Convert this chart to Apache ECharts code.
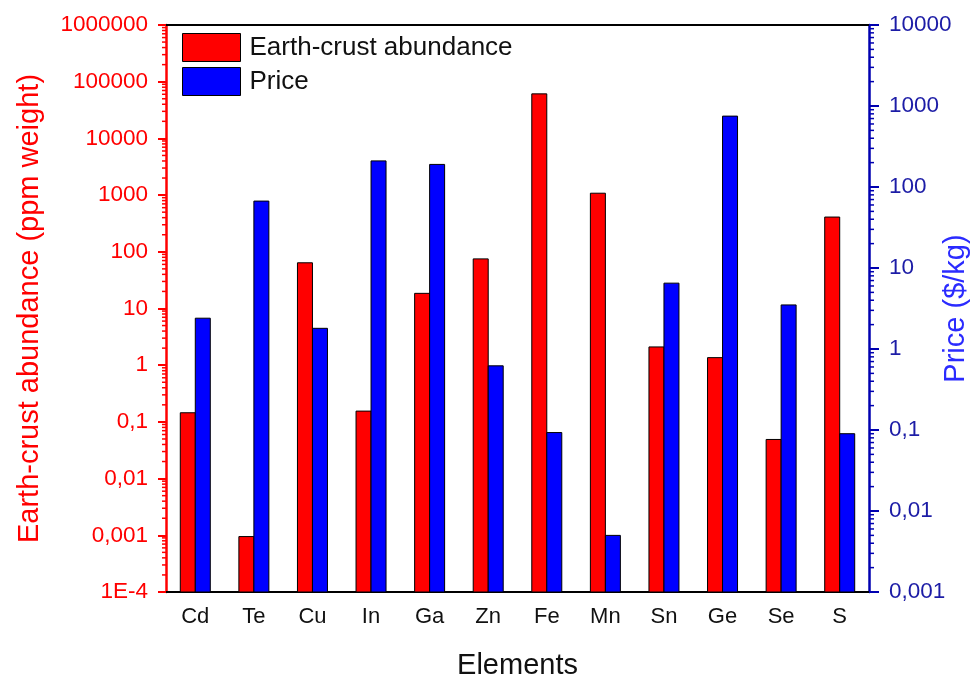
<!DOCTYPE html>
<html>
<head>
<meta charset="utf-8">
<title>Earth-crust abundance and price of elements</title>
<script src="https://cdn.jsdelivr.net/npm/echarts@6/dist/echarts.min.js"></script>
<style>
  html, body { margin: 0; padding: 0; background: #ffffff; }
  #chart { width: 972px; height: 681px; }
</style>
</head>
<body>
<div id="chart"></div>
<script>
// Elements on the category axis
const categories = ['Cd', 'Te', 'Cu', 'In', 'Ga', 'Zn', 'Fe', 'Mn', 'Sn', 'Ge', 'Se', 'S'];
// Earth-crust abundance, ppm by weight (left log axis)
const abundance = [0.145, 0.00095, 64, 0.155, 18.5, 75, 61000, 1080, 2.1, 1.36, 0.049, 410];
// Price, $/kg (right log axis)
const price = [2.4, 67, 1.8, 210, 190, 0.62, 0.093, 0.005, 6.5, 750, 3.5, 0.09];

// Axis ranges and tick texts (decimal comma)
const leftMin = 1e-4, leftMax = 1e6;
const rightMin = 1e-3, rightMax = 1e4;
const leftTickLabels = ['1E-4', '0,001', '0,01', '0,1', '1', '10', '100', '1000', '10000', '100000', '1000000'];
const rightTickLabels = ['0,001', '0,01', '0,1', '1', '10', '100', '1000', '10000'];

const FONT = '"Liberation Sans", Arial, Helvetica, sans-serif';
const RED = '#ff0000';
const BLUE = '#0000ff';
const BLUE_AXIS = '#0000b0';
const BLUE_LABEL = '#1c1ca6';
const BLUE_NAME = '#2b2bff';

// Minor tick values 2..9 x 10^e inside a log range
function minorTickValues(minExp, maxExp) {
  const out = [];
  for (let e = minExp; e < maxExp; e++) {
    for (let k = 2; k <= 9; k++) out.push([0, k * Math.pow(10, e)]);
  }
  return out;
}

// Bars drawn from the axis minimum up to the value, side by side in each band
function barRenderer(side, fill, baseValue) {
  return function (params, api) {
    const cs = params.coordSys;
    const band = cs.width / categories.length;
    const w = band * 0.256;
    const idx = api.value(0);
    const top = api.coord([idx, api.value(1)]);
    const base = api.coord([idx, baseValue]);
    const x = side < 0 ? top[0] - w : top[0];
    return {
      type: 'rect',
      shape: { x: x, y: top[1], width: w, height: base[1] - top[1] },
      style: { fill: fill, stroke: '#000000', lineWidth: 1 }
    };
  };
}

// Short minor tick marks on the outer side of a value axis
function minorTickRenderer(onRight, len, color) {
  return function (params, api) {
    const cs = params.coordSys;
    const y = api.coord([0, api.value(1)])[1];
    const x0 = onRight ? cs.x + cs.width : cs.x;
    const x1 = onRight ? x0 + len : x0 - len;
    return {
      type: 'line',
      shape: { x1: x0, y1: y, x2: x1, y2: y },
      style: { stroke: color, lineWidth: 1.5 }
    };
  };
}

const chart = echarts.init(document.getElementById('chart'), null, { renderer: 'canvas' });

chart.setOption({
  animation: false,
  backgroundColor: '#ffffff',
  textStyle: { fontFamily: FONT },
  grid: { left: 166, right: 103, top: 25, bottom: 89, containLabel: false, outerBoundsMode: 'none' },
  legend: {
    orient: 'vertical',
    left: 182,
    top: 33,
    padding: 0,
    itemWidth: 58,
    itemHeight: 28,
    itemGap: 5,
    selectedMode: false,
    textStyle: { fontFamily: FONT, fontSize: 26, color: '#111111', padding: [0, 0, 0, 4] },
    data: [
      { name: 'Earth-crust abundance', icon: 'rect', itemStyle: { color: RED, borderColor: '#000', borderWidth: 1 } },
      { name: 'Price', icon: 'rect', itemStyle: { color: BLUE, borderColor: '#000', borderWidth: 1 } }
    ]
  },
  xAxis: [
    {
      type: 'category',
      data: categories,
      position: 'bottom',
      boundaryGap: true,
      axisLine: { lineStyle: { color: '#000000', width: 2 } },
      axisTick: { alignWithLabel: true, length: 9, lineStyle: { color: '#000000', width: 2 } },
      axisLabel: { fontFamily: FONT, fontSize: 22, color: '#111111', margin: 14 },
      splitLine: { show: false },
      name: 'Elements',
      nameLocation: 'middle',
      nameGap: 59,
      nameTextStyle: { fontFamily: FONT, fontSize: 29, color: '#111111' }
    },
    {
      type: 'category',
      data: categories,
      position: 'bottom',
      boundaryGap: true,
      axisLine: { show: false },
      axisTick: { length: 5, lineStyle: { color: '#000000', width: 2 } },
      axisLabel: { show: false },
      splitLine: { show: false }
    },
    {
      type: 'category',
      data: categories,
      position: 'top',
      axisLine: { lineStyle: { color: '#000000', width: 2 } },
      axisTick: { show: false },
      axisLabel: { show: false },
      splitLine: { show: false }
    }
  ],
  yAxis: [
    {
      type: 'log',
      logBase: 10,
      position: 'left',
      min: leftMin,
      max: leftMax,
      interval: 1,
      splitNumber: 10,
      axisLine: { show: true, lineStyle: { color: RED, width: 2.5 } },
      axisTick: { show: true, inside: false, length: 8, lineStyle: { color: RED, width: 2 } },
      axisLabel: {
        fontFamily: FONT, fontSize: 22.5, color: RED, margin: 18,
        formatter: function (v) { return leftTickLabels[Math.round(Math.log10(v)) + 4]; }
      },
      splitLine: { show: false },
      name: 'Earth-crust abundance (ppm weight)',
      nameLocation: 'middle',
      nameRotate: 90,
      nameGap: 122,
      nameMoveOverlap: false,
      nameTextStyle: { fontFamily: FONT, fontSize: 29, color: RED }
    },
    {
      type: 'log',
      logBase: 10,
      position: 'right',
      min: rightMin,
      max: rightMax,
      interval: 1,
      splitNumber: 7,
      axisLine: { show: true, lineStyle: { color: BLUE_AXIS, width: 2.5 } },
      axisTick: { show: true, inside: false, length: 10, lineStyle: { color: BLUE_AXIS, width: 2 } },
      axisLabel: {
        fontFamily: FONT, fontSize: 22.5, color: BLUE_LABEL, margin: 20,
        formatter: function (v) { return rightTickLabels[Math.round(Math.log10(v)) + 3]; }
      },
      splitLine: { show: false },
      name: 'Price ($/kg)',
      nameLocation: 'middle',
      nameRotate: 90,
      nameGap: 72,
      nameMoveOverlap: false,
      nameTextStyle: { fontFamily: FONT, fontSize: 29, color: BLUE_NAME }
    }
  ],
  series: [
    {
      name: 'Earth-crust abundance',
      type: 'custom',
      xAxisIndex: 0,
      yAxisIndex: 0,
      clip: false,
      itemStyle: { color: RED },
      encode: { x: 0, y: 1 },
      data: abundance.map(function (v, i) { return [i, v]; }),
      renderItem: barRenderer(-1, RED, leftMin),
      z: 2
    },
    {
      name: 'Price',
      type: 'custom',
      xAxisIndex: 0,
      yAxisIndex: 1,
      clip: false,
      itemStyle: { color: BLUE },
      encode: { x: 0, y: 1 },
      data: price.map(function (v, i) { return [i, v]; }),
      renderItem: barRenderer(1, BLUE, rightMin),
      z: 2
    },
    {
      type: 'custom',
      xAxisIndex: 0,
      yAxisIndex: 0,
      silent: true,
      clip: false,
      encode: { x: 0, y: 1 },
      data: minorTickValues(-4, 6),
      renderItem: minorTickRenderer(false, 4, RED),
      z: 3
    },
    {
      type: 'custom',
      xAxisIndex: 0,
      yAxisIndex: 1,
      silent: true,
      clip: false,
      encode: { x: 0, y: 1 },
      data: minorTickValues(-3, 4),
      renderItem: minorTickRenderer(true, 5, BLUE_AXIS),
      z: 3
    }
  ]
});
</script>
</body>
</html>
